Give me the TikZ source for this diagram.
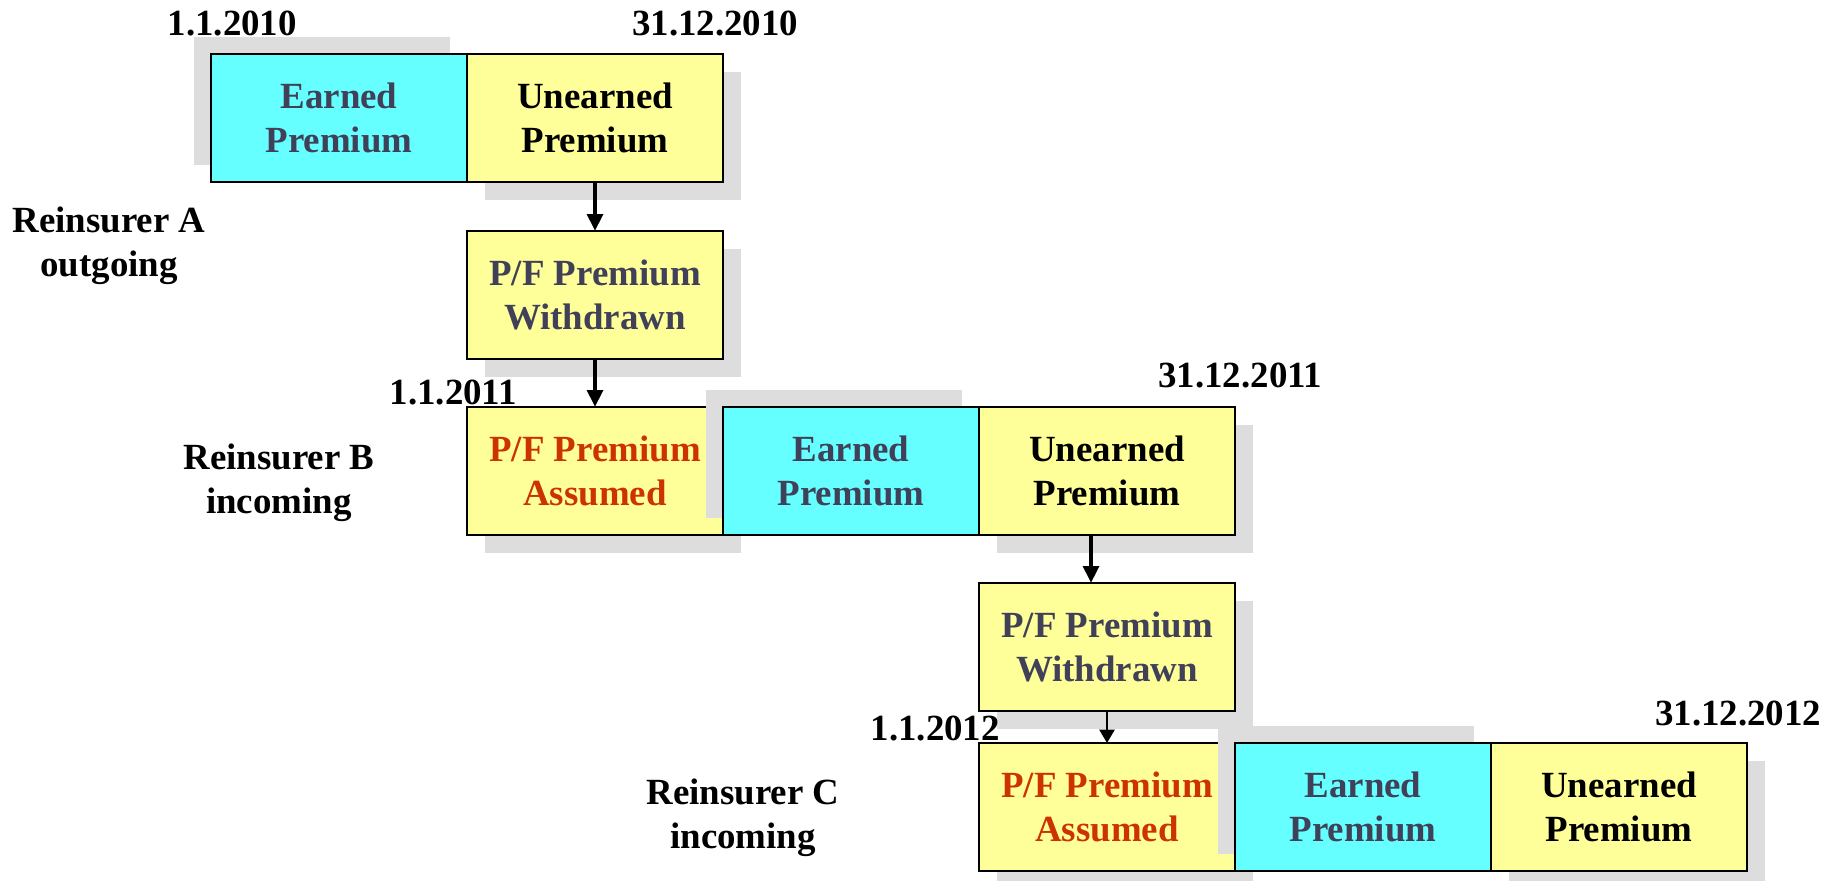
\documentclass[tikz,border=0pt]{standalone}
\usepackage{xcolor}
\usepackage{fontspec}
\setmainfont{Liberation Serif}
\usepackage{tikz}
\usetikzlibrary{positioning}
\usetikzlibrary{arrows.meta, shadows}

\definecolor{earnedcyan}{HTML}{66FFFF}
\definecolor{unearnedyellow}{HTML}{FFFF99}
\definecolor{shadowgray}{HTML}{DDDDDD}
\definecolor{slatetext}{HTML}{404058}
\definecolor{assumedred}{HTML}{CC3300}

\newcommand{\boxfont}{\fontsize{10.5}{12.5}\selectfont\bfseries}

\tikzset{
    premiumbox/.style={draw=black, line width=0.5pt, minimum width=2.56cm, minimum height=1.28cm,
        inner sep=0pt, outer sep=0pt, align=center, font=\boxfont},
    earnedbox/.style={premiumbox, fill=earnedcyan, text=slatetext,
        drop shadow={shadow xshift=-0.17cm, shadow yshift=0.17cm, fill=shadowgray, opacity=1}},
    yellowbox/.style={premiumbox, fill=unearnedyellow,
        drop shadow={shadow xshift=0.18cm, shadow yshift=-0.18cm, fill=shadowgray, opacity=1}},
    datelabel/.style={font=\boxfont, inner sep=0pt},
    partylabel/.style={font=\boxfont, align=center, inner sep=0pt},
    thickarrow/.style={line width=1.15pt, -{Triangle[length=4.8pt,width=4.4pt]}},
    thinarrow/.style={line width=0.6pt, -{Triangle[length=3.8pt,width=4.3pt]}}
}

\begin{document}
\begin{tikzpicture}
            \useasboundingbox (0,0) rectangle (18.37,8.80);

            % Reinsurer A
            \node[earnedbox] (e1) at (3.39,7.62) {Earned\\Premium};
            \node[yellowbox, right=0pt of e1] (u1) {Unearned\\Premium};
            \node[yellowbox, text=slatetext, below=0.49cm of u1] (w1) {P/F Premium\\Withdrawn};

            % Reinsurer B
            \node[yellowbox, text=assumedred, below=0.48cm of w1] (a2) {P/F Premium\\Assumed};
            \node[earnedbox, right=0pt of a2] (e2) {Earned\\Premium};
            \node[yellowbox, right=0pt of e2] (u2) {Unearned\\Premium};
            \node[yellowbox, text=slatetext, below=0.48cm of u2] (w2) {P/F Premium\\Withdrawn};

            % Reinsurer C
            \node[yellowbox, text=assumedred, below=0.32cm of w2] (a3) {P/F Premium\\Assumed};
            \node[earnedbox, right=0pt of a3] (e3) {Earned\\Premium};
            \node[yellowbox, right=0pt of e3] (u3) {Unearned\\Premium};

            \draw[thickarrow] (u1) -- (w1);
            \draw[thickarrow] (w1) -- (a2);
            \draw[thickarrow] ([xshift=-0.16cm]u2.south) -- ([xshift=-0.16cm]w2.north);
            \draw[thinarrow] (w2) -- (a3);

            \node[datelabel, anchor=base west] (start1) at (1.67,8.44) {1.1.2010};
            \node[datelabel, anchor=base east] (end1) at (7.99,8.44) {31.12.2010};
            \node[datelabel, anchor=base west] (start2) at (3.89,4.76) {1.1.2011};
            \node[datelabel, anchor=base east] (end2) at (13.23,4.93) {31.12.2011};
            \node[datelabel, anchor=base west] (start3) at (8.70,1.40) {1.1.2012};
            \node[datelabel, anchor=base east] (end3) at (18.22,1.55) {31.12.2012};

            \node[partylabel] (partyA) at (1.09,6.345) {Reinsurer A\\outgoing};
            \node[partylabel] (partyB) at (2.79,3.975) {Reinsurer B\\incoming};
            \node[partylabel] (partyC) at (7.43,0.625) {Reinsurer C\\incoming};
        \end{tikzpicture}
\end{document}
